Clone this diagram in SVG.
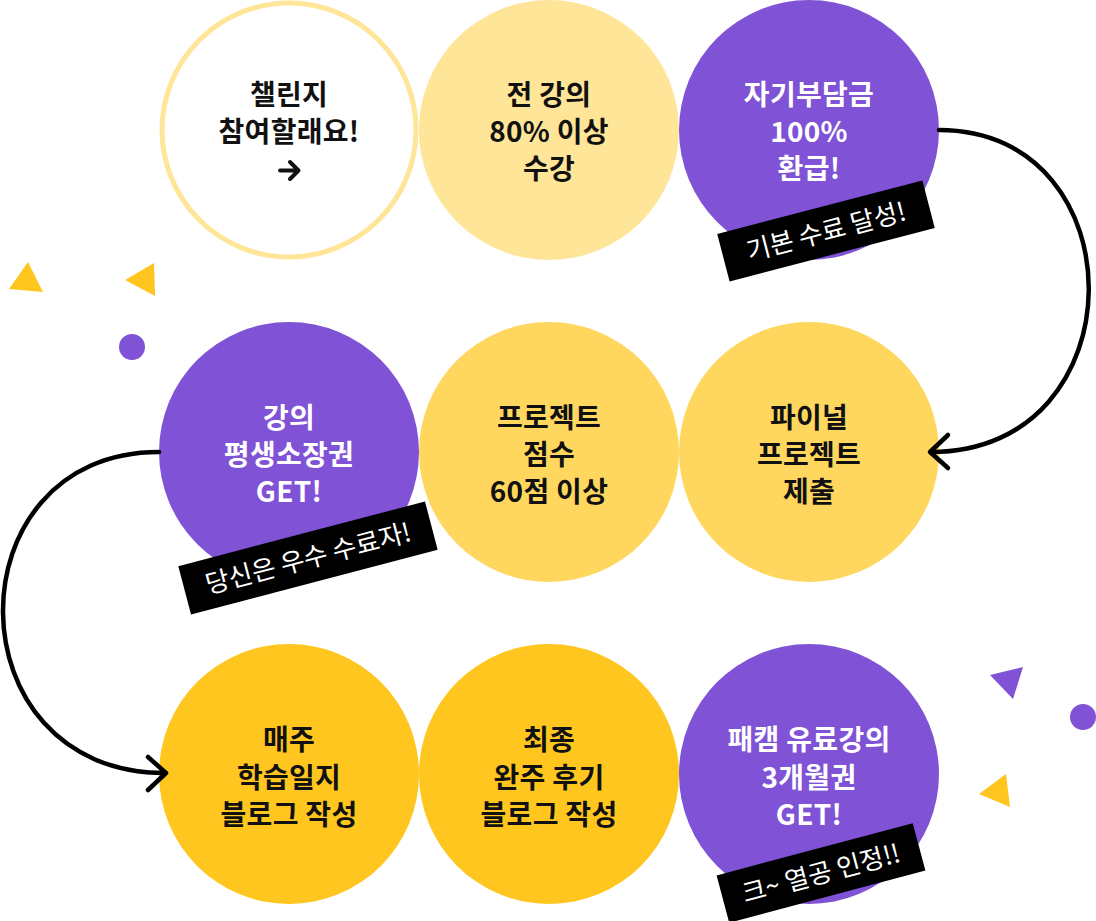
<svg xmlns="http://www.w3.org/2000/svg" width="1096" height="921" viewBox="0 0 1096 921">
<defs>
<style>
.t{font-family:"Noto Sans CJK KR","Noto Sans",sans-serif;font-size:28px;font-weight:700;text-anchor:middle;letter-spacing:0.3px}
.dk{fill:#111111}
.wt{fill:#ffffff}
.lb{font-family:"Noto Sans CJK KR","Noto Sans",sans-serif;font-size:26px;font-weight:400;fill:#ffffff;text-anchor:middle}
.c1{fill:#FFE598}
.c2{fill:#FFD75E}
.c3{fill:#FEC61E}
.cp{fill:#7F52D6}
.con{fill:none;stroke:#000;stroke-width:4.5;stroke-linecap:round;stroke-linejoin:round}
</style>
</defs>
<rect width="1096" height="921" fill="#ffffff"/>

<g id="decor">
<polygon points="28,262 9,289 43,292" fill="#FEC61E"/>
<polygon points="154,263 125,280 155,296" fill="#FEC61E"/>
<circle cx="132" cy="347" r="13" fill="#7F52D6"/>
<polygon points="990,675 1023,667 1013,699" fill="#7F52D6"/>
<circle cx="1083" cy="717" r="13" fill="#7F52D6"/>
<polygon points="1006,774 979,794 1010,807" fill="#FEC61E"/>
</g>

<g id="node-challenge">
<circle cx="289" cy="130" r="127" fill="#ffffff" stroke="#FFE598" stroke-width="5"/>
<text class="t dk" x="289" y="105">챌린지</text>
<text class="t dk" x="289" y="142">참여할래요!</text>
<path d="M280,170.5 H298.5 M290,162 L298.5,170.5 L290,179" fill="none" stroke="#111" stroke-width="4" stroke-linecap="round" stroke-linejoin="round"/>
</g>

<g id="node-attend">
<circle class="c1" cx="549" cy="130" r="130"/>
<text class="t dk" x="549" y="104.5">전 강의</text>
<text class="t dk" x="549" y="141.5">80% 이상</text>
<text class="t dk" x="549" y="178.5">수강</text>
</g>

<g id="node-refund">
<circle class="cp" cx="809" cy="130" r="130"/>
<text class="t wt" x="809" y="104.5">자기부담금</text>
<text class="t wt" x="809" y="141.5">100%</text>
<text class="t wt" x="809" y="178.5">환급!</text>
</g>

<g id="node-final">
<circle class="c2" cx="809" cy="452" r="130"/>
<text class="t dk" x="809" y="428">파이널</text>
<text class="t dk" x="809" y="465">프로젝트</text>
<text class="t dk" x="809" y="502">제출</text>
</g>

<g id="node-score">
<circle class="c2" cx="549" cy="452" r="130"/>
<text class="t dk" x="549" y="428">프로젝트</text>
<text class="t dk" x="549" y="465">점수</text>
<text class="t dk" x="549" y="502">60점 이상</text>
</g>

<g id="node-lifetime">
<circle class="cp" cx="289" cy="452" r="130"/>
<text class="t wt" x="289" y="428">강의</text>
<text class="t wt" x="289" y="465">평생소장권</text>
<text class="t wt" x="289" y="502">GET!</text>
</g>

<g id="node-weekly">
<circle class="c3" cx="289" cy="774" r="130"/>
<text class="t dk" x="289" y="750">매주</text>
<text class="t dk" x="289" y="788">학습일지</text>
<text class="t dk" x="289" y="825">블로그 작성</text>
</g>

<g id="node-review">
<circle class="c3" cx="549" cy="774" r="130"/>
<text class="t dk" x="549" y="750">최종</text>
<text class="t dk" x="549" y="788">완주 후기</text>
<text class="t dk" x="549" y="825">블로그 작성</text>
</g>

<g id="node-pass">
<circle class="cp" cx="809" cy="774" r="130"/>
<text class="t wt" x="809" y="750">패캠 유료강의</text>
<text class="t wt" x="809" y="788">3개월권</text>
<text class="t wt" x="809" y="825">GET!</text>
</g>

<g id="badges">
<g transform="translate(826,231) rotate(-14.6)">
<rect x="-106" y="-24.5" width="212" height="49" fill="#000"/>
<text class="lb" x="0" y="9.5">기본 수료 달성!</text>
</g>
<g transform="translate(308,558) rotate(-14.7)">
<rect x="-127.5" y="-25" width="255" height="50" fill="#000"/>
<text class="lb" x="0" y="9.5">당신은 우수 수료자!</text>
</g>
<g transform="translate(821,873) rotate(-14.9)">
<rect x="-101.5" y="-24.5" width="203" height="49" fill="#000"/>
<text class="lb" x="0" y="9.5">크~ 열공 인정!!</text>
</g>
</g>

<g id="connectors">
<path class="con" d="M939,130 C1140,130 1140,452 931,452"/>
<path class="con" d="M948,435 L930,452 L948,468"/>
<path class="con" d="M159,452 C-50,452 -50,773 165,773"/>
<path class="con" d="M148,757 L166,773 L148,790"/>
</g>
</svg>
